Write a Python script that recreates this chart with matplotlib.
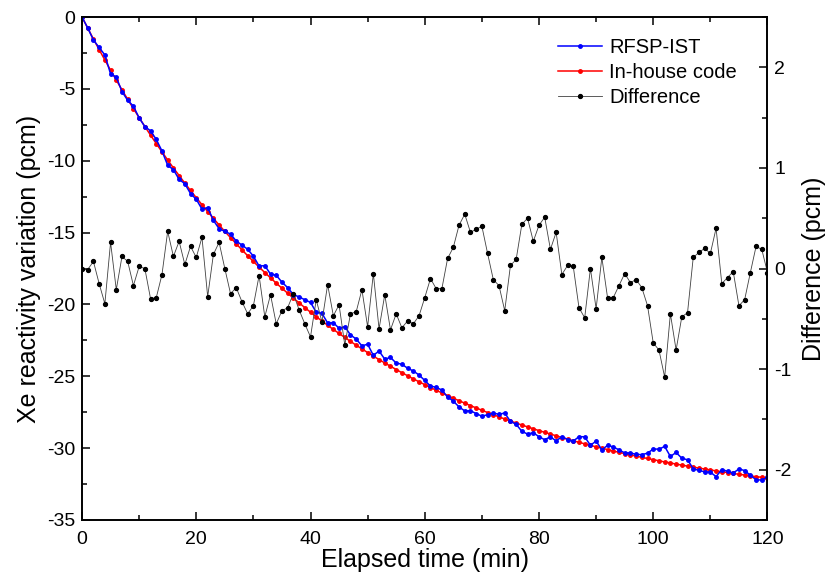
import matplotlib.pyplot as plt
from matplotlib.ticker import MultipleLocator

plt.rcParams['font.family'] = ['Liberation Sans', 'DejaVu Sans']
plt.rcParams['axes.unicode_minus'] = False

# elapsed time, one point per minute
t = list(range(0, 121))

# in-house code result (pcm)
inhouse = [0.00, -0.77, -1.53, -2.27, -2.99, -3.70, -4.39, -5.07, -5.73, -6.37,
           -7.00, -7.62, -8.22, -8.81, -9.38, -9.95, -10.50, -11.03, -11.56, -12.07,
           -12.57, -13.06, -13.54, -14.01, -14.47, -14.92, -15.35, -15.78, -16.20, -16.61,
           -17.01, -17.40, -17.78, -18.15, -18.52, -18.87, -19.22, -19.56, -19.89, -20.22,
           -20.54, -20.85, -21.15, -21.45, -21.74, -22.02, -22.30, -22.57, -22.84, -23.09,
           -23.35, -23.59, -23.84, -24.07, -24.30, -24.53, -24.75, -24.96, -25.18, -25.38,
           -25.58, -25.78, -25.97, -26.16, -26.34, -26.52, -26.70, -26.87, -27.04, -27.20,
           -27.36, -27.52, -27.67, -27.82, -27.97, -28.11, -28.25, -28.39, -28.52, -28.65,
           -28.78, -28.90, -29.02, -29.14, -29.26, -29.37, -29.49, -29.59, -29.70, -29.80,
           -29.91, -30.00, -30.10, -30.20, -30.29, -30.38, -30.47, -30.55, -30.64, -30.72,
           -30.80, -30.88, -30.96, -31.03, -31.11, -31.18, -31.25, -31.32, -31.39, -31.45,
           -31.52, -31.58, -31.64, -31.70, -31.76, -31.82, -31.87, -31.93, -31.98, -32.03,
           -32.08]

# RFSP-IST result (pcm)
rfsp = [0.00, -0.76, -1.60, -2.12, -2.64, -3.96, -4.18, -5.19, -5.80, -6.20,
        -7.02, -7.62, -7.92, -8.52, -9.32, -10.32, -10.62, -11.30, -11.60, -12.29,
        -12.68, -13.37, -13.26, -14.15, -14.73, -14.92, -15.10, -15.59, -15.87, -16.16,
        -16.64, -17.33, -17.30, -17.89, -17.97, -18.45, -18.83, -19.31, -19.48, -19.67,
        -19.86, -20.54, -20.62, -21.29, -21.27, -21.66, -21.54, -22.12, -22.41, -22.88,
        -22.77, -23.54, -23.24, -23.81, -23.69, -24.08, -24.16, -24.44, -24.63, -24.91,
        -25.29, -25.68, -25.77, -25.96, -26.44, -26.73, -27.13, -27.41, -27.40, -27.59,
        -27.78, -27.67, -27.56, -27.65, -27.55, -28.14, -28.34, -28.83, -29.02, -28.92,
        -29.21, -29.41, -29.21, -29.50, -29.20, -29.40, -29.51, -29.20, -29.21, -29.80,
        -29.51, -30.11, -29.81, -29.91, -30.12, -30.33, -30.33, -30.44, -30.45, -30.35,
        -30.06, -30.07, -29.88, -30.58, -30.30, -30.70, -30.81, -31.43, -31.55, -31.65,
        -31.67, -31.98, -31.49, -31.61, -31.73, -31.45, -31.56, -31.89, -32.20, -32.22,
        -32.04]

# difference (pcm), right axis
diff = [0.00, -0.01, 0.07, -0.15, -0.35, 0.26, -0.21, 0.12, 0.07, -0.17,
        0.02, 0.00, -0.30, -0.29, -0.06, 0.37, 0.12, 0.27, 0.04, 0.22,
        0.11, 0.31, -0.28, 0.14, 0.26, 0.00, -0.25, -0.19, -0.33, -0.45,
        -0.37, -0.07, -0.48, -0.26, -0.55, -0.42, -0.39, -0.25, -0.41, -0.55,
        -0.68, -0.31, -0.53, -0.16, -0.47, -0.36, -0.76, -0.45, -0.43, -0.21,
        -0.58, -0.05, -0.60, -0.26, -0.61, -0.45, -0.59, -0.52, -0.55, -0.47,
        -0.29, -0.10, -0.20, -0.20, 0.10, 0.21, 0.43, 0.54, 0.36, 0.39,
        0.42, 0.15, -0.11, -0.17, -0.42, 0.03, 0.09, 0.44, 0.50, 0.27,
        0.43, 0.51, 0.19, 0.36, -0.06, 0.03, 0.02, -0.39, -0.49, 0.00,
        -0.40, 0.11, -0.29, -0.29, -0.17, -0.05, -0.14, -0.11, -0.19, -0.37,
        -0.74, -0.81, -1.08, -0.45, -0.81, -0.48, -0.44, 0.11, 0.16, 0.20,
        0.15, 0.40, -0.15, -0.09, -0.03, -0.37, -0.31, -0.04, 0.22, 0.19,
        -0.04]

fig = plt.figure(figsize=(8.25, 5.79), dpi=100)
ax = fig.add_axes([0.0994, 0.1019, 0.8309, 0.8687])
ax2 = ax.twinx()

l1, = ax.plot(t, rfsp, color='#0000ff', lw=1.1, marker='o', ms=2.5, label='RFSP-IST', zorder=3)
l2, = ax.plot(t, inhouse, color='#ff0000', lw=1.1, marker='o', ms=2.5, label='In-house code', zorder=2)
l3, = ax2.plot(t, diff, color='#404040', lw=0.6, marker='o', ms=2.8, mfc='black', mec='black',
               label='Difference')

ax.set_xlim(0, 120)
ax.set_ylim(-35, 0)
ax2.set_ylim(-2.5, 2.5)

ax.xaxis.set_major_locator(MultipleLocator(20))
ax.xaxis.set_minor_locator(MultipleLocator(10))
ax.yaxis.set_major_locator(MultipleLocator(5))
ax.yaxis.set_minor_locator(MultipleLocator(2.5))
ax2.yaxis.set_major_locator(MultipleLocator(1))
ax2.yaxis.set_minor_locator(MultipleLocator(0.5))

ax.tick_params(which='both', direction='in', top=True, right=False, labelsize=14, width=1.1)
ax.tick_params(axis='x', which='both', pad=8)
ax.tick_params(axis='y', which='both', pad=5)
ax.tick_params(which='major', length=6)
ax.tick_params(which='minor', length=3.5)
ax2.tick_params(which='both', direction='in', labelsize=14, width=1.1, pad=5)
ax2.tick_params(which='major', length=6)
ax2.tick_params(which='minor', length=3.5)
for a in (ax, ax2):
    for s in a.spines.values():
        s.set_linewidth(1.2)

ax.set_xlabel('Elapsed time (min)', fontsize=18, labelpad=0)
ax.set_ylabel('Xe reactivity variation (pcm)', fontsize=18, labelpad=4)
ax2.set_ylabel('Difference (pcm)', fontsize=18, labelpad=7)

ax2.legend(handles=[l1, l2, l3], loc='upper left', bbox_to_anchor=(0.694, 0.958),
           frameon=False, fontsize=14.5, handlelength=2.2, handletextpad=0.35,
           labelspacing=0.3, borderpad=0, borderaxespad=0)

fig.savefig('out.png', dpi=100)
